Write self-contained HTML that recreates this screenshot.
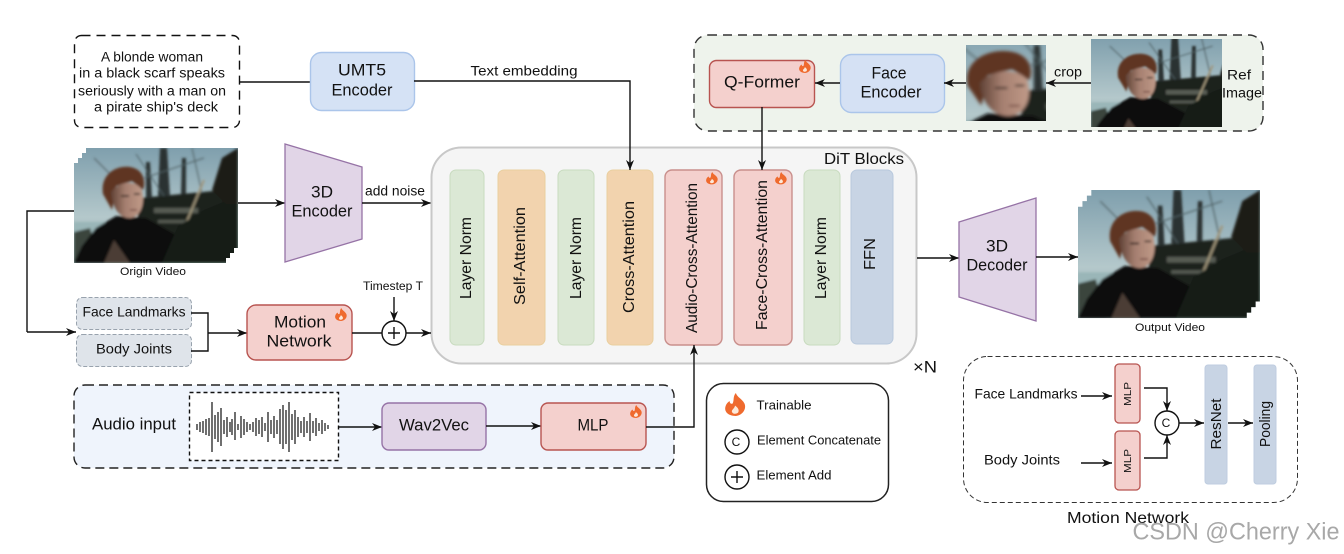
<!DOCTYPE html>
<html><head><meta charset="utf-8"><style>
html,body{margin:0;padding:0;background:#fff}
svg{display:block}
text{font-family:"Liberation Sans","DejaVu Sans",sans-serif;fill:#111;text-anchor:middle;dominant-baseline:middle}
.l{stroke:#111;stroke-width:1.4;fill:none}
.a{marker-end:url(#ar)}
</style></head><body>
<svg width="1344" height="554" viewBox="0 0 1344 554" xmlns="http://www.w3.org/2000/svg">
<defs>
<marker id="ar" markerUnits="userSpaceOnUse" markerWidth="12" markerHeight="10" refX="10" refY="5" orient="auto"><path d="M0 1L10 5L0 9L3 5Z" fill="#111"/></marker>
<filter id="bl" x="-5%" y="-5%" width="110%" height="110%"><feGaussianBlur stdDeviation="1.200"/></filter>
<linearGradient id="sky" x1="0" y1="0" x2="0" y2="1"><stop offset="0" stop-color="#7f9fad"/><stop offset=".6" stop-color="#b4c8cb"/><stop offset="1" stop-color="#8fa8a8"/></linearGradient>
<linearGradient id="skin" x1="0" y1="0" x2="1" y2="0"><stop offset="0" stop-color="#5f4236"/><stop offset=".45" stop-color="#a57f70"/><stop offset="1" stop-color="#c09a88"/></linearGradient>
<symbol id="ph" viewBox="0 0 164 115" preserveAspectRatio="none">
<rect width="164" height="115" fill="url(#sky)"/>
<g filter="url(#bl)">
<rect x="0" y="74" width="50" height="14" fill="#9ab6b8"/>
<path d="M0 84L16 80L26 115H0Z" fill="#3a443e"/>
<path d="M66 50L150 42L158 102H60Z" fill="#1e211c"/>
<path d="M86 0h7l3 48h-12zM72 14h4l2 36h-6zM108 10h4v36h-5z" fill="#2b3232"/>
<path d="M70 30l60-20M62 6l28 42M118 0l10 45M20 10l30 30" stroke="#4d5e62" stroke-width="1" fill="none"/>
<path d="M80 60h44v5h-44zM84 72h40v3h-40z" fill="#575c52"/>
<path d="M130 32L106 90" stroke="#a0957a" stroke-width="2"/>
<path d="M0 115L8 98L22 80L42 68L72 70L104 88L88 115Z" fill="#0a0b0b"/>
<path d="M40 92L56 115H30Z" fill="#4c3d36"/>
<path d="M88 115L104 78L130 62L164 48V115Z" fill="#141c19"/>
<path d="M148 10L164 0V56H152L138 42Z" fill="#1f1a16"/>
<path d="M29 46C26 28 40 17 56 19C70 21 72 34 69 42L58 33L42 38L38 62Z" fill="#5e3522"/>
<path d="M37 44C46 32 62 32 68 42C71 56 67 68 57 70C46 71 38 60 37 44Z" fill="url(#skin)"/>
<path d="M47 48h8M60 46h6" stroke="#2e211c" stroke-width="1.500"/>
<path d="M56 62h7" stroke="#6e423c" stroke-width="1.300"/>
</g>
</symbol>
<clipPath id="st"><path d="M12 0H164V100H160V105H156V110H152V115H0V15H4V10H8V5H12Z"/></clipPath>
<g id="fl"><path d="M7 0C8 4 11 5 12.500 9C14 13 12 19 7 20C2 20 -1 16 0.500 11C1 9 2 8 3 7C3 9 4 10 5 9C6 6 5 3 7 0Z" fill="#ef6a2e"/><path d="M6.500 11C8 12.500 9.500 14.500 8.500 17C7.500 18.500 5 18.500 4.500 16.500C4 14.500 6 14 6.500 11Z" fill="#fde9d9"/></g>
</defs>

<!-- Prompt -->
<rect x="74.500" y="35.500" width="165" height="92" rx="7" fill="#fff" stroke="#111" stroke-width="1.400" stroke-dasharray="9 6"/>
<text x="152" y="58" font-size="13.500" textLength="102" lengthAdjust="spacingAndGlyphs">A blonde woman</text>
<text x="152" y="74" font-size="13.500" textLength="146" lengthAdjust="spacingAndGlyphs">in a black scarf speaks</text>
<text x="152" y="92" font-size="13.500" textLength="148" lengthAdjust="spacingAndGlyphs">seriously with a man on</text>
<text x="156" y="108" font-size="13.500" textLength="124" lengthAdjust="spacingAndGlyphs">a pirate ship's deck</text>

<path class="l" d="M239 82H310"/>
<rect x="310.500" y="52.500" width="104" height="58" rx="11" fill="#d5e2f5" stroke="#abc5ea" stroke-width="1.400"/>
<text x="362" y="71" font-size="17" textLength="48" lengthAdjust="spacingAndGlyphs">UMT5</text>
<text x="362" y="91" font-size="17" textLength="61" lengthAdjust="spacingAndGlyphs">Encoder</text>
<text x="524" y="72" font-size="14" textLength="107" lengthAdjust="spacingAndGlyphs">Text  embedding</text>

<!-- Ref panel -->
<rect x="694" y="35" width="569" height="96" rx="14" fill="#eef3ec" stroke="#333" stroke-width="1.400" stroke-dasharray="9 6"/>
<rect x="709.500" y="60.500" width="105" height="47" rx="7" fill="#f4d0cd" stroke="#b85450" stroke-width="1.400"/>
<text x="762" y="83" font-size="16.500" textLength="76" lengthAdjust="spacingAndGlyphs">Q-Former</text>
<use href="#fl" transform="translate(799,60) scale(.9,.65)"/>
<rect x="840.500" y="54.500" width="104" height="58" rx="11" fill="#d5e1f4" stroke="#abc5ea" stroke-width="1.400"/>
<text x="889" y="74" font-size="17" textLength="35" lengthAdjust="spacingAndGlyphs">Face</text>
<text x="891" y="93" font-size="17" textLength="61" lengthAdjust="spacingAndGlyphs">Encoder</text>
<svg x="966" y="45" width="80" height="76" viewBox="28 14 52 60" preserveAspectRatio="none"><use href="#ph" width="164" height="115"/></svg>
<svg x="1091" y="39" width="131" height="88" viewBox="0 2 140 100" preserveAspectRatio="none"><use href="#ph" width="164" height="115"/></svg>
<path class="l a" d="M840 83H815"/>
<path class="l a" d="M966 83H944"/>
<path class="l a" d="M1091 83H1046"/>
<text x="1068" y="73" font-size="13.500" textLength="28" lengthAdjust="spacingAndGlyphs">crop</text>
<text x="1239" y="76" font-size="13.500" textLength="24" lengthAdjust="spacingAndGlyphs">Ref</text>
<text x="1242" y="94" font-size="13.500" textLength="40" lengthAdjust="spacingAndGlyphs">Image</text>

<!-- Origin video -->
<g clip-path="url(#st)" transform="translate(74,148)"><use href="#ph" width="164" height="115"/></g>
<text x="153" y="272" font-size="11" textLength="66" lengthAdjust="spacingAndGlyphs">Origin Video</text>
<path class="l a" d="M238 203H285"/>
<path d="M285 144L362 167V239L285 262Z" fill="#e1d5e7" stroke="#9673a6" stroke-width="1.300"/>
<text x="322" y="193" font-size="17" textLength="22" lengthAdjust="spacingAndGlyphs">3D</text>
<text x="322" y="212" font-size="17" textLength="61" lengthAdjust="spacingAndGlyphs">Encoder</text>
<text x="395" y="192" font-size="13.500" textLength="60" lengthAdjust="spacingAndGlyphs">add noise</text>
<path class="l a" d="M362 203H431"/>

<!-- DiT -->
<rect x="431.500" y="147.500" width="485" height="216" rx="30" fill="#f5f5f5" stroke="#c8c8c8" stroke-width="2"/>
<text x="864" y="160" font-size="16" textLength="80" lengthAdjust="spacingAndGlyphs">DiT Blocks</text>
<rect x="450" y="170" width="34" height="175" rx="6" fill="#dbe8d5" stroke="#c8dbbf"/>
<rect x="498" y="170" width="47" height="175" rx="6" fill="#f2d3ae" stroke="#e9cf9f"/>
<rect x="558" y="170" width="36" height="175" rx="6" fill="#dbe8d5" stroke="#c8dbbf"/>
<rect x="607" y="170" width="46" height="175" rx="6" fill="#f2d3ae" stroke="#e9cf9f"/>
<rect x="665" y="170" width="57" height="175" rx="7" fill="#f4d0cd" stroke="#c98f8c" stroke-width="1.400"/>
<rect x="734" y="170" width="58" height="175" rx="7" fill="#f4d0cd" stroke="#c98f8c" stroke-width="1.400"/>
<rect x="804" y="170" width="36" height="175" rx="6" fill="#dbe8d5" stroke="#c8dbbf"/>
<rect x="851" y="170" width="42" height="174" rx="6" fill="#c8d4e4" stroke="#b9c9dd"/>
<text transform="translate(467,258) rotate(-90)" font-size="15.500" textLength="82" lengthAdjust="spacingAndGlyphs">Layer Norm</text>
<text transform="translate(521,256) rotate(-90)" font-size="15.500" textLength="98" lengthAdjust="spacingAndGlyphs">Self-Attention</text>
<text transform="translate(577,258) rotate(-90)" font-size="15.500" textLength="82" lengthAdjust="spacingAndGlyphs">Layer Norm</text>
<text transform="translate(630,257) rotate(-90)" font-size="15.500" textLength="112" lengthAdjust="spacingAndGlyphs">Cross-Attention</text>
<text transform="translate(693,258) rotate(-90)" font-size="15.500" textLength="150" lengthAdjust="spacingAndGlyphs">Audio-Cross-Attention</text>
<text transform="translate(763,255) rotate(-90)" font-size="15.500" textLength="150" lengthAdjust="spacingAndGlyphs">Face-Cross-Attention</text>
<text transform="translate(822,258) rotate(-90)" font-size="15.500" textLength="82" lengthAdjust="spacingAndGlyphs">Layer Norm</text>
<text transform="translate(871,254) rotate(-90)" font-size="15.500" textLength="32" lengthAdjust="spacingAndGlyphs">FFN</text>
<use href="#fl" transform="translate(706,172) scale(.9,.62)"/>
<use href="#fl" transform="translate(775,172) scale(.9,.62)"/>
<text x="925" y="368" font-size="17" textLength="24" lengthAdjust="spacingAndGlyphs">×N</text>
<path class="l a" d="M414 81H630V170"/>
<path class="l a" d="M762 107V170"/>

<!-- Decoder, output -->
<path class="l a" d="M917 258H959"/>
<path d="M959 222L1036 198V321L959 297Z" fill="#e1d5e7" stroke="#9673a6" stroke-width="1.300"/>
<text x="997" y="247" font-size="17" textLength="22" lengthAdjust="spacingAndGlyphs">3D</text>
<text x="997" y="266" font-size="17" textLength="61" lengthAdjust="spacingAndGlyphs">Decoder</text>
<path class="l a" d="M1036 257H1078"/>
<g clip-path="url(#st)" transform="translate(1078,190) scale(1.110,1.115)"><use href="#ph" width="164" height="115"/></g>
<text x="1170" y="328" font-size="11" textLength="70" lengthAdjust="spacingAndGlyphs">Output Video</text>

<!-- Left connector -->
<path class="l" d="M74 211H27V332"/>
<path class="l a" d="M27 332H76"/>

<!-- Landmarks -->
<rect x="76.500" y="297.500" width="115" height="32" rx="6" fill="#dfe4ea" stroke="#98a2ad" stroke-dasharray="4 2"/>
<rect x="76.500" y="334.500" width="115" height="32" rx="6" fill="#dfe4ea" stroke="#98a2ad" stroke-dasharray="4 2"/>
<text x="134" y="313" font-size="14" textLength="103" lengthAdjust="spacingAndGlyphs">Face Landmarks</text>
<text x="134" y="350" font-size="14" textLength="76" lengthAdjust="spacingAndGlyphs">Body Joints</text>
<path class="l" d="M191 313H208V351H191"/>
<path class="l a" d="M208 333H247"/>
<rect x="247" y="305" width="105" height="55" rx="9" fill="#f4d0cd" stroke="#b85450" stroke-width="1.400"/>
<text x="300" y="323" font-size="17" textLength="52" lengthAdjust="spacingAndGlyphs">Motion</text>
<text x="299" y="342" font-size="17" textLength="65" lengthAdjust="spacingAndGlyphs">Network</text>
<use href="#fl" transform="translate(335,308) scale(.9,.65)"/>
<path class="l a" d="M352 333H431"/>
<circle cx="394" cy="333" r="12" fill="#fff" stroke="#111" stroke-width="1.400"/>
<path d="M388 333H400M394 327V339" stroke="#111" stroke-width="1.400"/>
<text x="393" y="287" font-size="11.500" textLength="60" lengthAdjust="spacingAndGlyphs">Timestep T</text>
<path class="l a" d="M394 297V321"/>

<!-- Audio -->
<rect x="74" y="385" width="600" height="83" rx="11" fill="#eff4fc" stroke="#222" stroke-width="1.400" stroke-dasharray="9 5"/>
<text x="134" y="425" font-size="16.500" textLength="84" lengthAdjust="spacingAndGlyphs">Audio input</text>
<rect x="189.500" y="392.500" width="149" height="68" fill="#fff" stroke="#111" stroke-width="1.400" stroke-dasharray="4 3"/>
<path d="M197 424v6M200 422v10M203 421v12M206 419v16M209 418v18M212 402v50M215 415v24M218 412v30M221 408v38M224 420v14M227 417v20M230 422v10M232 419v16M235 412v28M238 424v6M241 416v22M244 419v16M247 422v10M250 424v6M253 422v10M256 418v18M259 420v14M262 417v20M265 423v8M268 412v30M271 420v14M274 416v22M277 420v14M280 409v35M283 405v44M286 410v34M289 402v50M292 414v26M295 410v34M298 417v20M301 421v12M304 417v20M307 421v12M310 413v28M313 421v12M316 418v18M319 423v8M322 420v14M325 423v8M328 425v4" stroke="#222" stroke-width="1.300" fill="none"/>
<path class="l a" d="M338 427H382"/>
<rect x="382" y="403" width="104" height="47" rx="7" fill="#e1d5e7" stroke="#9673a6" stroke-width="1.400"/>
<text x="434" y="426" font-size="16.500" textLength="70" lengthAdjust="spacingAndGlyphs">Wav2Vec</text>
<path class="l a" d="M486 426H541"/>
<rect x="541" y="403" width="105" height="47" rx="7" fill="#f4d0cd" stroke="#b85450" stroke-width="1.400"/>
<text x="593" y="426" font-size="16.500" textLength="31" lengthAdjust="spacingAndGlyphs">MLP</text>
<use href="#fl" transform="translate(630,405) scale(.9,.65)"/>
<path class="l a" d="M646 427H694V345"/>

<!-- Legend -->
<rect x="706.500" y="383.500" width="182" height="118" rx="17" fill="#fff" stroke="#222" stroke-width="1.500"/>
<use href="#fl" transform="translate(725,393) scale(1.550,1.150)"/>
<text x="784" y="406" font-size="12.500" textLength="55" lengthAdjust="spacingAndGlyphs">Trainable</text>
<circle cx="737" cy="442" r="12" fill="#fff" stroke="#111" stroke-width="1.400"/>
<text x="736" y="443" font-size="12">C</text>
<text x="819" y="441" font-size="12.500" textLength="124" lengthAdjust="spacingAndGlyphs">Element Concatenate</text>
<circle cx="737" cy="477" r="12" fill="#fff" stroke="#111" stroke-width="1.400"/>
<path d="M731 477H743M737 471V483" stroke="#111" stroke-width="1.400"/>
<text x="794" y="476" font-size="12.500" textLength="75" lengthAdjust="spacingAndGlyphs">Element Add</text>

<!-- Motion network -->
<rect x="963.500" y="356.500" width="334" height="146" rx="24" fill="#fff" stroke="#333" stroke-width="1" stroke-dasharray="5 3"/>
<text x="1026" y="395" font-size="14" textLength="103" lengthAdjust="spacingAndGlyphs">Face Landmarks</text>
<text x="1022" y="461" font-size="14" textLength="76" lengthAdjust="spacingAndGlyphs">Body Joints</text>
<path class="l a" d="M1081 396H1112"/>
<path class="l a" d="M1081 463H1112"/>
<rect x="1115" y="364" width="25" height="59" rx="4" fill="#f4d0cd" stroke="#b85450" stroke-width="1.300"/>
<rect x="1115" y="431" width="25" height="59" rx="4" fill="#f4d0cd" stroke="#b85450" stroke-width="1.300"/>
<text transform="translate(1128,394) rotate(-90)" font-size="10.500" textLength="24" lengthAdjust="spacingAndGlyphs">MLP</text>
<text transform="translate(1128,461) rotate(-90)" font-size="10.500" textLength="24" lengthAdjust="spacingAndGlyphs">MLP</text>
<path class="l a" d="M1144 388H1167V411"/>
<path class="l a" d="M1144 458H1167V435"/>
<circle cx="1167" cy="423" r="12" fill="#fff" stroke="#111" stroke-width="1.400"/>
<text x="1166" y="424" font-size="12">C</text>
<path class="l a" d="M1179 423H1204"/>
<rect x="1205" y="365" width="22" height="119" rx="3" fill="#c8d4e4" stroke="#bfcde0"/>
<text transform="translate(1217,424) rotate(-90)" font-size="15" textLength="51" lengthAdjust="spacingAndGlyphs">ResNet</text>
<path class="l a" d="M1228 423H1253"/>
<rect x="1254" y="365" width="22" height="119" rx="3" fill="#c8d4e4" stroke="#bfcde0"/>
<text transform="translate(1266,424) rotate(-90)" font-size="15" textLength="46" lengthAdjust="spacingAndGlyphs">Pooling</text>
<text x="1128" y="519" font-size="15.500" textLength="122" lengthAdjust="spacingAndGlyphs">Motion Network</text>
<text x="1236" y="533" font-size="24" textLength="207" lengthAdjust="spacingAndGlyphs" style="fill:#a8a8a8">CSDN @Cherry Xie</text>
</svg>
</body></html>
